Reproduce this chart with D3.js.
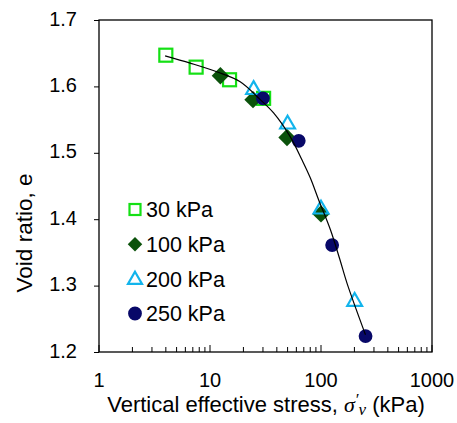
<!DOCTYPE html>
<head>
<meta charset="UTF-8">
<script src="https://cdn.jsdelivr.net/npm/d3@7"></script>
<style>
body { margin: 0; background: #fff; }
svg { display: block; font-family: "Liberation Sans", Arial, sans-serif; }
.frame { fill: none; stroke: #000; stroke-width: 1.3px; }
.tick line { stroke: #000; }
.fit { fill: none; stroke: #000; stroke-width: 1.2px; }
</style>
</head>
<body>
<script>

var width = 457,
    height = 423;

// load levels (legend) and measured points [stress kPa, void ratio]
var s30 = [[4.0, 1.647], [7.5, 1.629], [15, 1.610], [30.4, 1.582]];
var s100 = [[12.4, 1.616], [24.4, 1.580], [49.4, 1.523], [100, 1.408]];
var s200 = [[24.7, 1.595], [50, 1.543], [100, 1.415], [201, 1.276]];
var s250 = [[30, 1.582], [63, 1.518], [126, 1.361], [252, 1.224]];

// fitted curve
var fitLine = [[3.94, 1.646], [6.63, 1.635], [11.5, 1.622], [18.7, 1.607], [28.4, 1.580],
    [37.4, 1.560], [52.9, 1.524], [67.5, 1.489], [80.2, 1.462], [95.3, 1.429],
    [121.6, 1.384], [147.5, 1.340], [172, 1.303], [251.6, 1.226]];

var xTicks = [1, 10, 100, 1000];
var yTicks = [1.2, 1.3, 1.4, 1.5, 1.6, 1.7];
var legendLabels = ["30 kPa", "100 kPa", "200 kPa", "250 kPa"];

var m = {left: 99, top: 20, right: 25, bottom: 71};

var x = d3.scaleLog().domain([1, 1000]).range([m.left, width - m.right]);
var y = d3.scaleLinear().domain([1.2, 1.7]).range([height - m.bottom, m.top]);

var svg = d3.select("body").append("svg")
    .attr("width", width)
    .attr("height", height);

// minor ticks on the log axis, inside the plot
var minor = [];
[1, 10, 100].forEach(function(d) {
    for (var k = 2; k <= 9; k++) minor.push(d * k);
});

var xAxis = svg.append("g")
    .attr("transform", "translate(0," + y(1.2) + ")");
xAxis.selectAll(".minor")
    .data(minor)
  .enter().append("line")
    .attr("x1", d => x(d)).attr("x2", d => x(d))
    .attr("y1", 0).attr("y2", -5)
    .attr("stroke", "#000");
xAxis.selectAll(".major")
    .data(xTicks)
  .enter().append("line")
    .attr("x1", d => x(d)).attr("x2", d => x(d))
    .attr("y1", 0).attr("y2", -7)
    .attr("stroke", "#000");
xAxis.selectAll("text")
    .data(xTicks)
  .enter().append("text")
    .attr("x", d => x(d))
    .attr("y", 35)
    .attr("text-anchor", "middle")
    .attr("font-size", 20)
    .text(d => d);

var yAxis = svg.append("g")
    .attr("transform", "translate(" + m.left + ",0)")
    .call(d3.axisLeft(y).tickValues(yTicks).tickSize(5).tickPadding(17).tickFormat(d3.format(".1f")));
yAxis.select(".domain").remove();
yAxis.selectAll("text").attr("font-size", 20).attr("font-family", "Liberation Sans, Arial, sans-serif")
    .attr("dy", "0.25em");

svg.append("rect")
    .attr("class", "frame")
    .attr("x", x(1)).attr("y", y(1.7))
    .attr("width", x(1000) - x(1))
    .attr("height", y(1.2) - y(1.7));

// axis titles
var serif = "Liberation Serif, Times New Roman, serif";
var xt = svg.append("text")
    .attr("x", 266)
    .attr("y", 412)
    .attr("text-anchor", "middle")
    .attr("font-size", 22);
xt.append("tspan").text("Vertical effective stress, ");
xt.append("tspan").attr("font-family", serif).attr("font-style", "italic").text("σ");
xt.append("tspan").attr("font-family", serif).attr("font-style", "italic")
    .attr("dy", -7).attr("font-size", 17).text("′");
xt.append("tspan").attr("font-family", serif).attr("font-style", "italic")
    .attr("dy", 10).attr("font-size", 17).text("v");
xt.append("tspan").attr("dy", -3).text(" (kPa)");

svg.append("text")
    .attr("transform", "translate(32,233) rotate(-90)")
    .attr("text-anchor", "middle")
    .attr("font-size", 22.5)
    .text("Void ratio, e");

// markers
var sq = 13, lsq = 11;
var marks = svg.append("g");

function square(g, data, size) {
    g.selectAll(null).data(data).enter().append("rect")
        .attr("x", d => x(d[0]) - size / 2)
        .attr("y", d => y(d[1]) - size / 2)
        .attr("width", size).attr("height", size)
        .attr("fill", "none").attr("stroke", "#14e014").attr("stroke-width", 2.2);
}
function symbolMark(g, data, type, area, fill, stroke, rot) {
    g.selectAll(null).data(data).enter().append("path")
        .attr("transform", d => "translate(" + x(d[0]) + "," + y(d[1]) + ") rotate(" + (rot || 0) + ")")
        .attr("d", d3.symbol().type(type).size(area))
        .attr("fill", fill)
        .attr("stroke", stroke)
        .attr("stroke-width", 2.2);
}

square(marks, s30, sq);
symbolMark(marks, s100, d3.symbolSquare, 150, "#0b520b", "none", 45);
symbolMark(marks, s200, d3.symbolTriangle, 95, "none", "#12b4ec");
symbolMark(marks, s250, d3.symbolCircle, 150, "#080868", "none");

svg.append("path")
    .datum(fitLine)
    .attr("class", "fit")
    .attr("d", d3.line().x(d => x(d[0])).y(d => y(d[1])).curve(d3.curveCatmullRom));

// legend
var lg = svg.append("g");
var ly = d3.scalePoint().domain(legendLabels).range([209.5, 313.5]);
var lx = 135;
lg.append("rect")
    .attr("x", lx - lsq / 2).attr("y", ly(legendLabels[0]) - lsq / 2)
    .attr("width", lsq).attr("height", lsq)
    .attr("fill", "none").attr("stroke", "#14e014").attr("stroke-width", 2.2);
lg.append("path")
    .attr("transform", "translate(" + lx + "," + ly(legendLabels[1]) + ") rotate(45)")
    .attr("d", d3.symbol().type(d3.symbolSquare).size(105))
    .attr("fill", "#0b520b");
lg.append("path")
    .attr("transform", "translate(" + lx + "," + (ly(legendLabels[2]) + 1) + ")")
    .attr("d", d3.symbol().type(d3.symbolTriangle).size(85))
    .attr("fill", "none").attr("stroke", "#12b4ec").attr("stroke-width", 2.2);
lg.append("path")
    .attr("transform", "translate(" + lx + "," + ly(legendLabels[3]) + ")")
    .attr("d", d3.symbol().type(d3.symbolCircle).size(150))
    .attr("fill", "#080868");
lg.selectAll("text")
    .data(legendLabels)
  .enter().append("text")
    .attr("x", 146)
    .attr("y", d => ly(d))
    .attr("dy", "0.36em")
    .attr("font-size", 21.5)
    .text(d => d);

</script>
</body>
